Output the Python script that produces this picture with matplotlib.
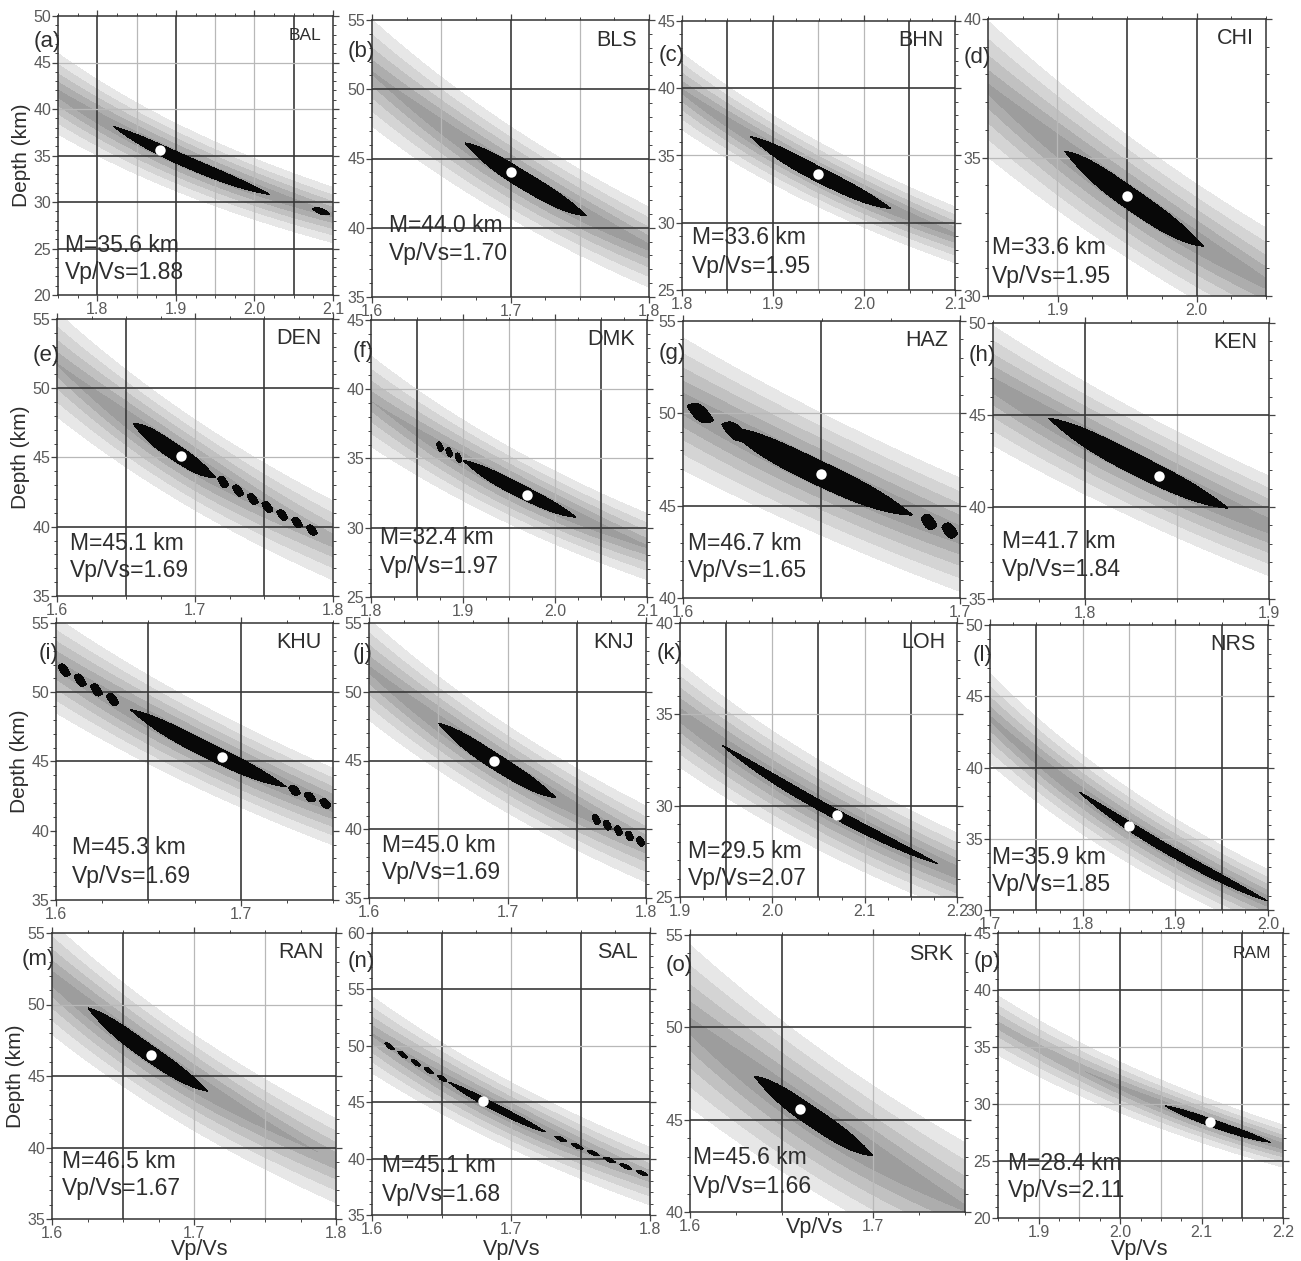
import numpy as np
import matplotlib
matplotlib.use('Agg')
import matplotlib.pyplot as plt
from matplotlib.ticker import MultipleLocator, FormatStrFormatter

# ---------------- data ----------------
letters = ['(a)', '(b)', '(c)', '(d)', '(e)', '(f)', '(g)', '(h)',
           '(i)', '(j)', '(k)', '(l)', '(m)', '(n)', '(o)', '(p)']
stations = ['BAL', 'BLS', 'BHN', 'CHI', 'DEN', 'DMK', 'HAZ', 'KEN',
            'KHU', 'KNJ', 'LOH', 'NRS', 'RAN', 'SAL', 'SRK', 'RAM']
moho_km = [35.6, 44.0, 33.6, 33.6, 45.1, 32.4, 46.7, 41.7,
           45.3, 45.0, 29.5, 35.9, 46.5, 45.1, 45.6, 28.4]
vpvs = [1.88, 1.70, 1.95, 1.95, 1.69, 1.97, 1.65, 1.84,
        1.69, 1.69, 2.07, 1.85, 1.67, 1.68, 1.66, 2.11]
xlims = [(1.75, 2.1), (1.6, 1.8), (1.8, 2.1), (1.85, 2.05),
         (1.6, 1.8), (1.8, 2.1), (1.6, 1.7), (1.75, 1.9),
         (1.6, 1.75), (1.6, 1.8), (1.9, 2.2), (1.7, 2.0),
         (1.6, 1.8), (1.6, 1.8), (1.6, 1.75), (1.85, 2.2)]
ylims = [(20, 50), (35, 55), (25, 45), (30, 40),
         (35, 55), (25, 45), (40, 55), (35, 50),
         (35, 55), (35, 55), (25, 40), (30, 50),
         (35, 55), (35, 60), (40, 55), (20, 45)]
# extent (in Vp/Vs) of the black maximum region
black_lo = [1.82, 1.667, 1.875, 1.905, 1.655, 1.90, 1.615, 1.78,
            1.64, 1.65, 1.945, 1.795, 1.625, 1.655, 1.635, 2.055]
black_hi = [2.02, 1.755, 2.03, 2.005, 1.715, 2.023, 1.683, 1.878,
            1.725, 1.735, 2.18, 2.0, 1.71, 1.725, 1.70, 2.185]
# half-thickness (km) of the black region and of the shaded band
black_half_km = [0.65, 0.7, 0.6, 0.45, 0.65, 0.5, 0.7, 0.6,
                 0.6, 0.65, 0.28, 0.36, 0.65, 0.32, 0.6, 0.32]
band_half_km = [3.7, 3.3, 2.4, 2.2, 3.3, 2.7, 3.3, 2.9,
                3.0, 3.2, 2.4, 2.6, 3.5, 3.0, 4.0, 2.0]
# isolated black fragments: (Vp/Vs start, Vp/Vs end, number of pieces)
fragments = [[(2.07, 2.1, 1)], [], [], [],
             [(1.715, 1.79, 7)], [(1.87, 1.9, 3)], [(1.6, 1.625, 2), (1.685, 1.7, 2)], [],
             [(1.6, 1.635, 4), (1.725, 1.75, 3)], [(1.76, 1.8, 5)], [], [],
             [], [(1.608, 1.655, 5), (1.73, 1.8, 6)], [], []]
# grid lines (dark / light)
grid_x_dark = [[1.8, 1.9, 2.05], [1.7], [1.85, 1.9, 2.05], [1.95, 2.0],
               [1.65, 1.75], [1.85, 2.05], [1.65], [1.8],
               [1.65, 1.7], [1.75], [1.95, 2.05, 2.15], [1.75, 1.95],
               [1.65], [1.65, 1.75], [1.65], [2.0, 2.15]]
grid_x_light = [[1.85, 1.95, 2.0], [1.65, 1.75], [1.95, 2.0], [1.9],
                [1.7], [1.9, 1.95, 2.0], [], [1.85],
                [], [1.65, 1.7], [2.0, 2.1], [1.8, 1.85, 1.9],
                [1.7, 1.75], [1.7], [1.7], [1.9, 1.95, 2.05, 2.1]]
grid_y_dark = [[35, 30, 25], [50, 45, 40], [40, 30], [],
               [50, 40], [30], [45], [45, 40],
               [50, 45], [50, 45, 40], [30], [40],
               [45, 40], [55, 45, 40], [50, 45], [40, 25]]
grid_y_light = [[45, 40], [], [35], [35],
                [45], [40, 35], [50], [],
                [], [], [35], [45, 35],
                [50], [50], [], [35, 30]]

# ---------------- layout (pixels of the 1301x1261 reference) ----------------
W, H = 1301, 1261
boxes = [(58, 333, 16, 295), (372, 649, 20, 297), (682, 955, 21, 290), (988, 1266, 19, 296),
         (57, 333, 319, 596), (371, 647, 320, 597), (683, 960, 321, 598), (993, 1269, 323, 599),
         (56, 333, 623, 900), (369, 646, 623, 898), (680, 957, 623, 897), (990, 1268, 625, 910),
         (52, 336, 933, 1219), (372, 650, 933, 1215), (690, 965, 935, 1212), (998, 1283, 933, 1218)]
text_dx = [7, 17, 10, 4, 13, 9, 5, 9, 16, 13, 8, 2, 10, 10, 3, 10]
text_dy = [50, 71, 52, 48, 53, 59, 55, 57, 52, 53, 46, 53, 58, 49, 54, 55]
letter_dy = [25, 32, 34, 38, 37, 32, 32, 32, 30, 30, 30, 30, 26, 28, 30, 28]
xlabel_x = [None] * 12 + [200, 512, 815, 1140]
xlabel_y = [None] * 12 + [1249, 1249, 1227, 1249]

VP, P = 6.3, 0.06
FONT = ['Liberation Sans', 'DejaVu Sans']
TXT = '#2e2e2e'
TICK = '#5a5a5a'
gray_levels = [-0.01, 0.25, 0.42, 0.6, 0.8, 1.0]
gray_colors = ['#9d9d9d', '#adadad', '#c1c1c1', '#d4d4d4', '#e7e7e7']


def trade(k):
    return np.sqrt((k / VP) ** 2 - P ** 2) - np.sqrt((1.0 / VP) ** 2 - P ** 2)


plt.rcParams['font.family'] = FONT
fig = plt.figure(figsize=(W / 100, H / 100), dpi=100)


def px2fig(x, y):
    return x / W, 1 - y / H


for i in range(16):
    l, r, t, b = boxes[i]
    ax = fig.add_axes([l / W, 1 - b / H, (r - l) / W, (b - t) / H])
    x0, x1 = xlims[i]
    y0, y1 = ylims[i]
    kk, hh = np.meshgrid(np.linspace(x0, x1, 500), np.linspace(y0, y1, 500))
    k0, m0 = vpvs[i], moho_km[i]
    f0 = trade(k0)
    dt = hh * trade(kk) - m0 * f0
    u = np.abs(dt) / (band_half_km[i] * f0)
    kc = 0.5 * (black_lo[i] + black_hi[i])
    hw = 0.5 * (black_hi[i] - black_lo[i])
    Ld = 2.0 * hw + 0.02
    E = np.exp(-((kk - kc) / Ld) ** 2)
    V = u + 0.32 * (1 - E) * (1 - np.minimum(u, 1))
    ax.contourf(kk, hh, V, levels=gray_levels, colors=gray_colors, zorder=1)

    sb = black_half_km[i] * f0
    B = np.abs(dt) / sb + np.abs((kk - kc) / hw) ** 3
    for (ka, kb, n) in fragments[i]:
        seg = (kb - ka) / n
        for j in range(n):
            c = ka + (j + 0.5) * seg
            Bj = np.abs(dt) / (0.6 * sb) + ((kk - c) / (0.38 * seg)) ** 2
            B = np.minimum(B, Bj)
    ax.contourf(kk, hh, B, levels=[-1, 1], colors=['#080808'], zorder=3)

    for x in grid_x_dark[i]:
        ax.axvline(x, color='#383838', lw=1.2, zorder=2)
    for x in grid_x_light[i]:
        ax.axvline(x, color='#b8b8b8', lw=0.9, zorder=2)
    for y in grid_y_dark[i]:
        ax.axhline(y, color='#383838', lw=1.2, zorder=2)
    for y in grid_y_light[i]:
        ax.axhline(y, color='#b8b8b8', lw=0.9, zorder=2)

    ax.plot([k0], [m0], 'o', color='white', ms=7.5, mec='none', zorder=5)

    ax.set_xlim(x0, x1)
    ax.set_ylim(y0, y1)
    ax.xaxis.set_major_locator(MultipleLocator(0.1))
    ax.xaxis.set_minor_locator(MultipleLocator(0.025))
    ax.yaxis.set_major_locator(MultipleLocator(5))
    ax.yaxis.set_minor_locator(MultipleLocator(1))
    ax.xaxis.set_major_formatter(FormatStrFormatter('%.1f'))
    ax.yaxis.set_major_formatter(FormatStrFormatter('%d'))
    ax.tick_params(which='both', direction='out', top=True, right=True,
                   colors='#444444', labelcolor=TICK, labelsize=11.5, pad=1)
    ax.tick_params(which='major', length=4, width=0.9)
    ax.tick_params(which='minor', length=2.5, width=0.7)
    for s in ax.spines.values():
        s.set_color('#333333')
        s.set_linewidth(1.1)

    # texts
    fx, fy = px2fig(l + text_dx[i], b - text_dy[i])
    fig.text(fx, fy, 'M=%.1f km' % m0, fontsize=16.5, color=TXT, va='center', ha='left')
    fx, fy = px2fig(l + text_dx[i], b - text_dy[i] + 28)
    fig.text(fx, fy, 'Vp/Vs=%.2f' % k0, fontsize=16.5, color=TXT, va='center', ha='left')
    fx, fy = px2fig(r - 12, t + 20)
    st_size = 12.5 if stations[i] in ('BAL', 'RAM') else 15.5
    fig.text(fx, fy, stations[i], fontsize=st_size, color=TXT, va='center', ha='right')
    fx, fy = px2fig(l + 3, t + letter_dy[i])
    fig.text(fx, fy, letters[i], fontsize=16, color=TXT, va='center', ha='right')

    if i % 4 == 0:
        fx, fy = px2fig(l - 36, 0.5 * (t + b))
        fig.text(fx, fy, 'Depth (km)', fontsize=15, color=TXT, rotation=90,
                 ha='center', va='center')
    if i >= 12:
        fx, fy = px2fig(xlabel_x[i], xlabel_y[i])
        fig.text(fx, fy, 'Vp/Vs', fontsize=15.5, color=TXT, ha='center', va='center')

fig.savefig('out.png', dpi=100, facecolor='white')
